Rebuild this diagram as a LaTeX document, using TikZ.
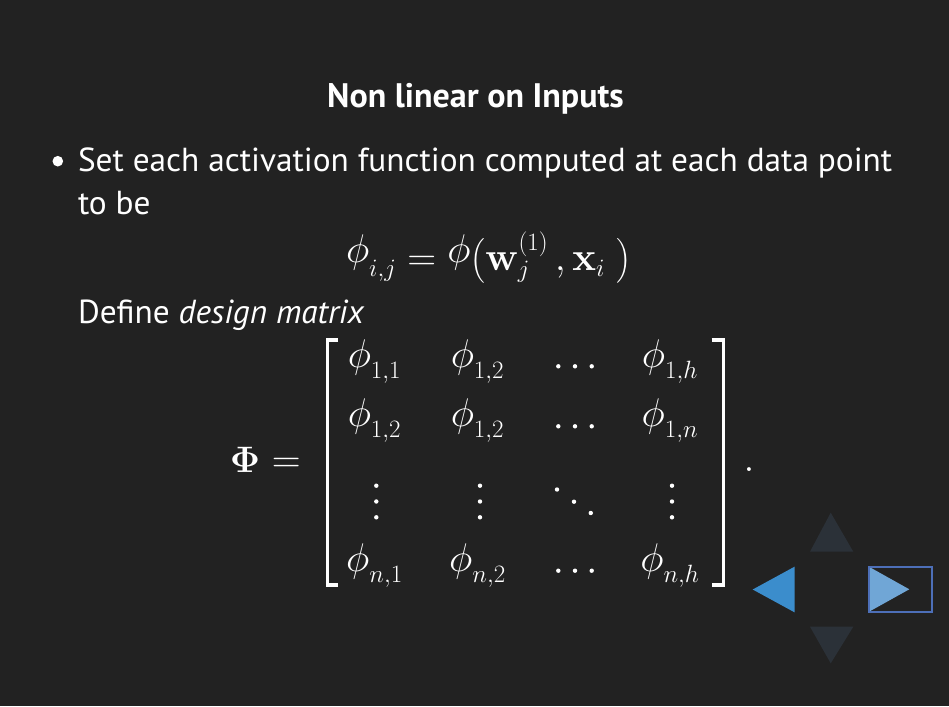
\RequirePackage{fix-cm}
\documentclass[tikz,border=0pt]{standalone}
\usepackage{amsmath}
\usepackage{graphicx}
\usepackage[no-math]{fontspec}
\setmainfont{PT Sans}
\DeclareMathSizes{40}{40}{25}{18}
\definecolor{bg}{HTML}{222222}
\definecolor{navblue}{HTML}{3B8DCC}
\definecolor{navlight}{HTML}{70A6D6}
\definecolor{navframe}{HTML}{4D6FB8}
\definecolor{navdim}{HTML}{2B3138}
\newcommand\lowsub[1]{_{\lower4.5pt\hbox{$\scriptstyle#1$}}}
\newcommand\ph[1]{\phi\lowsub{#1}}
\newcommand\phup{\raisebox{8pt}{$\phi$}}
\begin{document}
\begin{tikzpicture}[x=1pt,y=-1pt,
  txt/.style={inner sep=0pt, outer sep=0pt, text=white},
  bodytext/.style={txt, font=\fontsize{33.3}{40}\selectfont, anchor=base west},
  mathtext/.style={txt, font=\fontsize{40}{48}\selectfont},
  entry/.style={mathtext, anchor=base},
  ell/.style={circle, fill=white, inner sep=0pt, minimum size=4.4pt},
  bracket/.style={draw=white, line width=3.3pt, line join=miter},
]
\fill[bg] (0,0) rectangle (949,706);
\useasboundingbox (0,0) rectangle (949,706);

% title
\node[txt, font=\fontsize{34}{40}\selectfont\bfseries, anchor=base] (title) at (475.5,107.3) {Non linear on Inputs};

% bullet and body text
\node[circle, fill=white, inner sep=0pt, minimum size=10.6pt] (bullet) at (57.8,161.2) {};
\node[bodytext] (line1) at (78,171.7) {Set each activation function computed at each data point};
\node[bodytext] (line2) at (78,214.2) {to be};
\node[mathtext, anchor=base west] (eq) at (346,270.5) {$\phup_{i,j} = \phup\bigl(\mathbf{w}_j^{(1)}\,, \mathbf{x}_i\;\bigr)$};
\node[bodytext] (line3) at (78,323) {Define \textit{design matrix}};

% design matrix
\node[mathtext, anchor=base west] (lhs) at (230,472) {\scalebox{0.92}{$\mathbf{\Phi}$}\hspace{12pt}$=$};
\draw[bracket] (338,340) -- (327.6,340) -- (327.6,585) -- (338,585);
\draw[bracket] (711.7,340) -- (723.3,340) -- (723.3,585) -- (711.7,585);

\node[entry] (m11) at (374.5,367.5) {$\ph{1,1}$};
\node[entry] (m12) at (477.5,367.5) {$\ph{1,2}$};
\node[entry] (m14) at (670,367.5) {$\ph{1,h}$};
\node[entry] (m21) at (374.5,426.5) {$\ph{1,2}$};
\node[entry] (m22) at (477.5,426.5) {$\ph{1,2}$};
\node[entry] (m24) at (670,426.5) {$\ph{1,n}$};
\node[entry] (m41) at (374.5,571.5) {$\ph{n,1}$};
\node[entry] (m42) at (477.5,571.5) {$\ph{n,2}$};
\node[entry] (m44) at (670,571.5) {$\ph{n,h}$};

% horizontal ellipses
\foreach \r/\y in {1/366.3, 2/426.3, 4/570.7}
  \foreach \k/\x in {a/558.3, b/575, c/591.7}
    \node[ell] (h\r\k) at (\x,\y) {};
% vertical ellipses
\foreach \c/\x in {1/376.3, 2/480, 4/672}
  \foreach \k/\y in {a/485.7, b/501.5, c/517.3}
    \node[ell] (v\c\k) at (\x,\y) {};
% diagonal ellipsis
\node[ell] (d1) at (557,489.5) {};
\node[ell] (d2) at (574,501.7) {};
\node[ell] (d3) at (590.8,513) {};

\node[mathtext, anchor=center] (period) at (749,470) {$.$};

% navigation controls
\fill[navdim] (810,551.7) -- (853.3,551.7) -- (830.7,512.7) -- cycle;
\fill[navdim] (810,626.7) -- (853.3,626.7) -- (830.7,663.3) -- cycle;
\fill[navblue] (794.5,566.7) -- (794.5,612.3) -- (752.7,589.5) -- cycle;
\fill[navlight] (868.5,566.5) -- (868.5,612) -- (909.3,589.3) -- cycle;
\draw[navframe, line width=2pt] (869.2,567.2) rectangle (932.3,611.8);
\end{tikzpicture}
\end{document}
